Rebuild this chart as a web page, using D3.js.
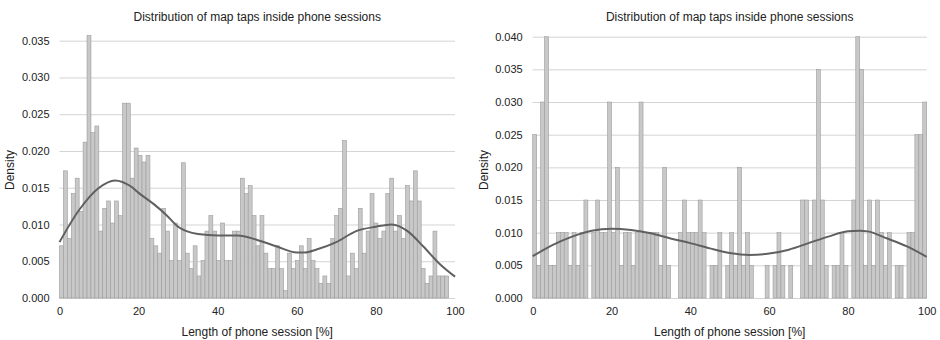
<!DOCTYPE html>
<html>
<head>
<meta charset="utf-8">
<script src="https://cdn.jsdelivr.net/npm/d3@7"></script>
<style>
  body { margin: 0; background: #fff; }
  svg { display: block; font-family: "Liberation Sans", Arial, sans-serif; }
</style>
</head>
<body>
<div id="chart"></div>
<script>
// left panel: 99 bins over 0..98.4
const leftBinWidth = 0.994;
const leftDensity = [
  0.0071, 0.0173, 0.0081, 0.0142, 0.0163, 0.0118, 0.0212, 0.0357, 0.0225, 0.0234,
  0.0091, 0.0122, 0.0132, 0.0102, 0.0132, 0.0112, 0.0265, 0.0265, 0.0163, 0.0204,
  0.0194, 0.0185, 0.0194, 0.0081, 0.0071, 0.0061, 0.0122, 0.0091, 0.0051, 0.0102,
  0.0051, 0.0184, 0.0061, 0.0040, 0.0071, 0.0030, 0.0051, 0.0091, 0.0112, 0.0091,
  0.0051, 0.0102, 0.0051, 0.0051, 0.0091, 0.0091, 0.0163, 0.0142, 0.0153, 0.0112,
  0.0071, 0.0112, 0.0061, 0.0040, 0.0040, 0.0071, 0.0040, 0.0010, 0.0061, 0.0040,
  0.0051, 0.0071, 0.0040, 0.0081, 0.0051, 0.0040, 0.0020, 0.0030, 0.0020, 0.0081,
  0.0112, 0.0122, 0.0214, 0.0030, 0.0061, 0.0040, 0.0122, 0.0061, 0.0091, 0.0142,
  0.0102, 0.0081, 0.0091, 0.0142, 0.0163, 0.0091, 0.0112, 0.0081, 0.0153, 0.0132,
  0.0173, 0.0132, 0.0040, 0.0020, 0.0030, 0.0091, 0.0030, 0.0030, 0.0030
];
const leftKdeX = [0, 5, 10, 14, 18, 20, 24, 27, 30, 35, 40, 45, 50, 55, 60, 62, 65, 70, 75, 80, 84, 88, 92, 96, 100];
const leftKdeY = [0.0076, 0.0120, 0.0150, 0.0160, 0.0152, 0.0143, 0.0127, 0.0113, 0.0097, 0.0087, 0.0085, 0.0085, 0.0079,
  0.0070, 0.0062, 0.0062, 0.0066, 0.0076, 0.0091, 0.0097, 0.0100, 0.0091, 0.0070, 0.0047, 0.0029];
const leftTicks = [0, 0.005, 0.010, 0.015, 0.020, 0.025, 0.030, 0.035];

// right panel: 100 bins over 0..100
const rightBinWidth = 1;
const rightDensity = [
  0.025, 0.005, 0.030, 0.040, 0.005, 0.005, 0.010, 0.010, 0.010, 0.005,
  0.010, 0.005, 0.010, 0.015, 0.000, 0.010, 0.015, 0.010, 0.010, 0.030,
  0.010, 0.020, 0.005, 0.010, 0.010, 0.005, 0.010, 0.030, 0.010, 0.010,
  0.010, 0.010, 0.005, 0.020, 0.005, 0.000, 0.000, 0.010, 0.015, 0.010,
  0.010, 0.010, 0.015, 0.010, 0.000, 0.005, 0.005, 0.010, 0.000, 0.005,
  0.010, 0.005, 0.020, 0.005, 0.010, 0.005, 0.000, 0.000, 0.000, 0.005,
  0.000, 0.005, 0.010, 0.005, 0.000, 0.005, 0.000, 0.000, 0.015, 0.015,
  0.005, 0.015, 0.035, 0.015, 0.005, 0.000, 0.005, 0.005, 0.010, 0.005,
  0.000, 0.015, 0.040, 0.035, 0.005, 0.015, 0.005, 0.015, 0.010, 0.005,
  0.010, 0.000, 0.005, 0.005, 0.000, 0.010, 0.010, 0.025, 0.025, 0.030
];
const rightKdeX = [0, 5, 10, 15, 20, 25, 30, 35, 40, 45, 50, 55, 60, 65, 70, 75, 80, 83, 85, 90, 95, 100];
const rightKdeY = [0.0064, 0.0081, 0.0094, 0.0103, 0.0106, 0.0104, 0.0099, 0.0091, 0.0084, 0.0076, 0.0069, 0.0066,
  0.0068, 0.0074, 0.0084, 0.0094, 0.0102, 0.0103, 0.0102, 0.0091, 0.0079, 0.0063];
const rightTicks = [0, 0.005, 0.010, 0.015, 0.020, 0.025, 0.030, 0.035, 0.040];

const xTicks = [0, 20, 40, 60, 80, 100];
const titleText = "Distribution of map taps inside phone sessions";
const xLabel = "Length of phone session [%]";
const yLabel = "Density";

const svg = d3.select("#chart").append("svg")
  .attr("width", 940)
  .attr("height", 340);

function drawPanel(p) {
  const x = d3.scaleLinear().domain([0, 100]).range([p.left, p.right]);
  const y = d3.scaleLinear().domain([0, p.yTop]).range([298, p.yTopPx]);
  const g = svg.append("g");

  // grid
  g.append("g")
    .attr("transform", `translate(${p.left},0)`)
    .call(d3.axisLeft(y).tickValues(p.ticks).tickSize(-(p.right - p.left)).tickPadding(10).tickFormat(d3.format(".3f")))
    .call(a => a.select(".domain").remove())
    .call(a => a.selectAll(".tick line").attr("stroke", "#d4d4d4").attr("stroke-width", 1))
    .call(a => a.selectAll(".tick text").attr("fill", "#222").style("font-size", "11px"));

  // bars
  g.append("g").selectAll("rect")
    .data(p.density)
    .join("rect")
      .attr("x", (d, i) => x(i * p.binWidth))
      .attr("width", x(p.binWidth) - x(0))
      .attr("y", d => y(d))
      .attr("height", d => y(0) - y(d))
      .attr("fill", "#c8c8c8")
      .attr("stroke", "#9c9c9c")
      .attr("stroke-width", 0.6);

  // kde line
  const pts = p.kdeX.map((v, i) => [v, p.kdeY[i]]);
  g.append("path")
    .datum(pts)
    .attr("fill", "none")
    .attr("stroke", "#606060")
    .attr("stroke-width", 2)
    .attr("d", d3.line().x(d => x(d[0])).y(d => y(d[1])).curve(d3.curveMonotoneX));

  // x axis labels
  g.append("g")
    .attr("transform", `translate(0,298)`)
    .call(d3.axisBottom(x).tickValues(xTicks).tickSize(0).tickPadding(9))
    .call(a => a.select(".domain").remove())
    .call(a => a.selectAll(".tick text").attr("fill", "#222").style("font-size", "11px"));

  const cx = (p.left + p.right) / 2;
  g.append("text")
    .attr("x", cx).attr("y", 21)
    .attr("text-anchor", "middle")
    .attr("fill", "#222")
    .style("font-size", "12px")
    .text(titleText);

  g.append("text")
    .attr("x", cx).attr("y", 336)
    .attr("text-anchor", "middle")
    .attr("fill", "#222")
    .style("font-size", "12px")
    .text(xLabel);

  g.append("text")
    .attr("transform", `translate(${p.yLabelX},170) rotate(-90)`)
    .attr("text-anchor", "middle")
    .attr("fill", "#222")
    .style("font-size", "12px")
    .text(yLabel);
}

drawPanel({
  left: 59.5, right: 455, yTop: 0.035, yTopPx: 40.7, ticks: leftTicks,
  density: leftDensity, binWidth: leftBinWidth, kdeX: leftKdeX, kdeY: leftKdeY, yLabelX: 14
});
drawPanel({
  left: 532.7, right: 926.7, yTop: 0.040, yTopPx: 36.7, ticks: rightTicks,
  density: rightDensity, binWidth: rightBinWidth, kdeX: rightKdeX, kdeY: rightKdeY, yLabelX: 488
});
</script>
</body>
</html>
